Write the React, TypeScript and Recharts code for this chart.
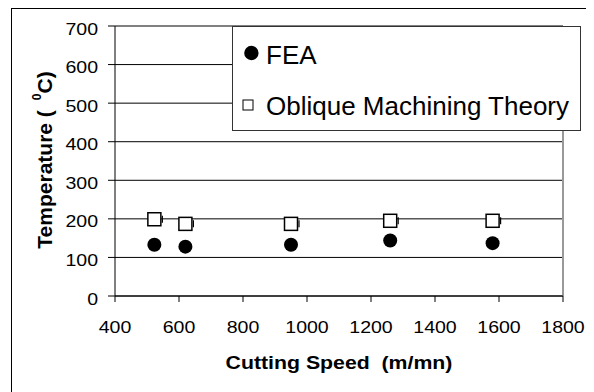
import React from 'react';
import {
  ScatterChart,
  Scatter,
  XAxis,
  YAxis,
  CartesianGrid,
  Legend,
  ReferenceLine,
} from 'recharts';

// ---- data ----
const speedFEA = [523, 620, 950, 1260, 1580];
const tempFEA = [133, 128, 133, 144, 137];
const speedTheory = [523, 620, 950, 1260, 1580];
const tempTheory = [199, 187, 187, 195, 195];
const xTicks = [400, 600, 800, 1000, 1200, 1400, 1600, 1800];
const yTicks = [0, 100, 200, 300, 400, 500, 600, 700];
const seriesNames = ['FEA', 'Oblique Machining Theory'];
const xTitle = 'Cutting Speed  (m/mn)';

const feaData = speedFEA.map((s, i) => ({ x: s, y: tempFEA[i] }));
const theoryData = speedTheory.map((s, i) => ({ x: s, y: tempTheory[i] }));

const FONT = 'Arial, "Liberation Sans", sans-serif';

const YTick = (props: any) => {
  const { x, y, payload } = props;
  return (
    <text
      transform={`translate(${x},${y + 8.6}) scale(1.15,1)`}
      textAnchor="end"
      fontSize={17}
      fontFamily={FONT}
      fill="#000"
    >
      {payload.value}
    </text>
  );
};

const XTick = (props: any) => {
  const { x, y, payload } = props;
  return (
    <text
      transform={`translate(${x},${y + 31.3}) scale(1.15,1)`}
      textAnchor="middle"
      fontSize={17}
      fontFamily={FONT}
      fill="#000"
    >
      {payload.value}
    </text>
  );
};

const XTitle = (props: any) => {
  const vb = props.viewBox || {};
  const cx = vb.x + vb.width / 2;
  const by = vb.y + 73.3;
  return (
    <text
      transform={`translate(${cx},${by}) scale(1.12,1)`}
      textAnchor="middle"
      fontSize={19}
      fontWeight="bold"
      fontFamily={FONT}
      fill="#000"
      xmlSpace="preserve"
      style={{ whiteSpace: 'pre' }}
    >
      {xTitle}
    </text>
  );
};

const YTitle = (props: any) => {
  const vb = props.viewBox || {};
  const bx = 43.7;
  const cy = vb.y + vb.height / 2 - 1;
  return (
    <text
      transform={`rotate(-90, ${bx}, ${cy})`}
      x={bx}
      y={cy}
      textAnchor="middle"
      fontSize={21}
      fontWeight="bold"
      fontFamily={FONT}
      fill="#000"
    >
      <tspan>{'Temperature ('}</tspan>
      <tspan fontSize={12} dx={10} dy={-11}>0</tspan>
      <tspan dy={11}>C)</tspan>
    </text>
  );
};

const LegendBox = (props: any) => {
  const payload = props.payload || [];
  const names = payload.length ? payload.map((p: any) => p.value) : seriesNames;
  return (
    <svg width={349} height={105} style={{ display: 'block' }}>
      <rect x={0.5} y={0.5} width={348} height={104} fill="#fff" stroke="#333" />
      <circle cx={19.4} cy={27} r={7.2} fill="#000" />
      <text x={34} y={38} fontSize={26} fontFamily={FONT} fill="#000">
        {names[0]}
      </text>
      <rect x={11} y={74} width={10} height={10} fill="#fff" stroke="#000" strokeWidth={1} />
      <text x={34} y={89} fontSize={26} fontFamily={FONT} fill="#000">
        {names[1]}
      </text>
    </svg>
  );
};

const CircleShape = (props: any) => (
  <circle cx={props.cx} cy={props.cy} r={7} fill="#000" />
);

const SquareShape = (props: any) => (
  <g>
    <line
      x1={props.cx + 8}
      x2={props.cx + 8}
      y1={props.cy - 3.5}
      y2={props.cy + 3.5}
      stroke="#000"
      strokeWidth={1.2}
    />
    <rect
      x={props.cx - 6.5}
      y={props.cy - 6.5}
      width={13}
      height={13}
      fill="#fff"
      stroke="#000"
      strokeWidth={1.5}
    />
  </g>
);

export default function App() {
  return (
    <div style={{ position: 'relative', width: 586, height: 384, overflow: 'hidden' }}>
      <div
        style={{
          position: 'absolute',
          left: 3,
          top: 0,
          width: 576,
          height: 400,
          border: '1px solid #000',
          boxSizing: 'border-box',
        }}
      />
      <ScatterChart
        width={586}
        height={384}
        margin={{ top: 18, right: 31, bottom: 0, left: 0 }}
        style={{ position: 'absolute', left: 0, top: 0 }}
      >
        <CartesianGrid horizontal vertical={false} stroke="#000" strokeWidth={1} />
        <ReferenceLine x={1800} stroke="#999" strokeWidth={2} />
        <XAxis
          type="number"
          dataKey="x"
          domain={[400, 1800]}
          ticks={xTicks}
          height={96}
          tickSize={6}
          tickMargin={0}
          axisLine={{ stroke: '#000' }}
          tickLine={{ stroke: '#000' }}
          tick={<XTick />}
          interval={0}
          label={<XTitle />}
        />
        <YAxis
          type="number"
          dataKey="y"
          domain={[0, 700]}
          ticks={yTicks}
          width={107}
          tickSize={7}
          tickMargin={10}
          axisLine={{ stroke: '#000' }}
          tickLine={{ stroke: '#000' }}
          tick={<YTick />}
          interval={0}
          label={<YTitle />}
        />
        <Legend
          layout="vertical"
          align="center"
          verticalAlign="middle"
          content={<LegendBox />}
          wrapperStyle={{ position: 'absolute', left: 224, top: 18, width: 349, height: 105 }}
        />
        <Scatter
          name={seriesNames[0]}
          data={feaData}
          shape={<CircleShape />}
          isAnimationActive={false}
        />
        <Scatter
          name={seriesNames[1]}
          data={theoryData}
          shape={<SquareShape />}
          isAnimationActive={false}
        />
      </ScatterChart>
    </div>
  );
}
